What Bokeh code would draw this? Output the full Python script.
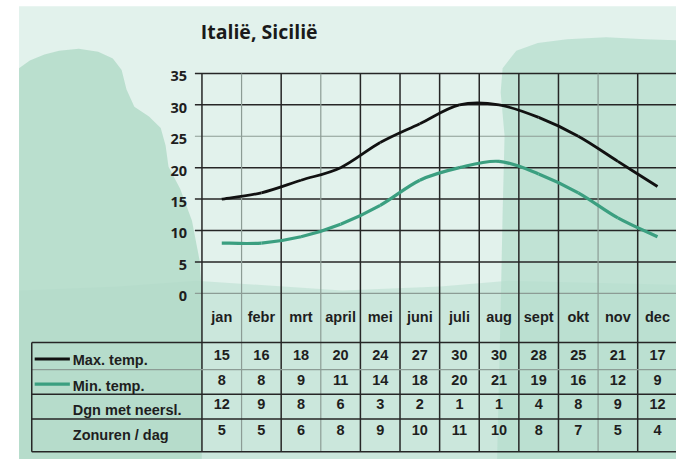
from bokeh.plotting import figure
from bokeh.models import ColumnDataSource, Range1d
from bokeh.embed import file_html
from bokeh.resources import INLINE
from bokeh.core.properties import value

# ---------------- data ----------------
title = "Italië, Sicilië"
months = ["jan", "febr", "mrt", "april", "mei", "juni", "juli", "aug", "sept", "okt", "nov", "dec"]
max_temp = [15, 16, 18, 20, 24, 27, 30, 30, 28, 25, 21, 17]
min_temp = [8, 8, 9, 11, 14, 18, 20, 21, 19, 16, 12, 9]
rain_days = [12, 9, 8, 6, 3, 2, 1, 1, 4, 8, 9, 12]
sun_hours = [5, 5, 6, 8, 9, 10, 11, 10, 8, 7, 5, 4]
y_ticks = [0, 5, 10, 15, 20, 25, 30, 35]
row_labels = ["Max. temp.", "Min. temp.", "Dgn met neersl.", "Zonuren / dag"]

# ---------------- layout (reference pixels -> data units) ----------------
W, H = 676, 459
REF_W, REF_H = 692, 475
COL = 40.55      # ref px per month column
PX0 = 226.5      # ref x of the jan column centre
PXU = 6.5        # ref px per degree
PY35 = 75.5      # ref y of 35 degrees


def dx(px):
    return (px - PX0) / COL


def dy(py):
    return 35 - (py - PY35) / PXU


p = figure(width=W, height=H, output_backend="svg", toolbar_location=None,
           x_range=Range1d(dx(0), dx(REF_W)), y_range=Range1d(dy(REF_H), dy(0)),
           x_axis_location=None, y_axis_location=None, min_border=0,
           background_fill_color="white", border_fill_color="white")
p.grid.visible = False
p.outline_line_color = None

# ---------------- background wash ----------------
p.quad(left=dx(19), right=dx(720), top=dy(6), bottom=dy(490), color="#e2f2ec", line_color=None)


def blot(pts, color, alpha):
    p.patch([dx(a) for a, b in pts], [dy(b) for a, b in pts], fill_color=color,
            fill_alpha=alpha, line_color=None)


# lower band
blot([(19, 300), (120, 296), (200, 290), (350, 300), (450, 296), (520, 290), (720, 295),
      (720, 490), (19, 490)], "#c2e3d5", 0.7)
# left blotch
blot([(19, 70), (30, 62), (45, 56), (60, 52), (80, 50), (100, 53), (115, 60), (124, 72),
      (129, 92), (137, 110), (152, 120), (164, 132), (169, 150), (172, 172), (184, 195),
      (196, 228), (204, 270), (206, 300), (206, 490), (19, 490)],
     "#b0d9c7", 0.8)
# right blotch
blot([(508, 490), (512, 320), (514, 220), (516, 140), (512, 95), (514, 70), (528, 52), (550, 44),
      (580, 40), (620, 38), (660, 40), (720, 42), (720, 490)], "#b6ddcd", 0.75)

# ---------------- grid ----------------
dark = "#262626"
light = "#8c9c95"
for t in y_ticks:
    faint = t in (0, 25)
    p.segment(x0=[dx(199)], y0=[t], x1=[dx(720)], y1=[t],
              line_color=light if faint else dark, line_width=1.2 if faint else 1.5)

light_cols = (1, 3, 10)
for k in range(13):
    p.segment(x0=[k - 0.5], y0=[max(y_ticks)], x1=[k - 0.5], y1=[dy(467)],
              line_color=light if k in light_cols else dark,
              line_width=1.2 if k in light_cols else 1.5)

# table lines
for py, faint in ((354, False), (382, True), (407.5, False), (433, False), (467, False)):
    p.segment(x0=[dx(32)], y0=[dy(py)], x1=[dx(720)], y1=[dy(py)],
              line_color=light if faint else dark, line_width=1.2 if faint else 1.5)
p.segment(x0=[dx(32)], y0=[dy(354)], x1=[dx(32)], y1=[dy(467)], line_color=dark, line_width=1.5)


# ---------------- smooth temperature curves ----------------
def smooth(vals):
    n = len(vals)
    P = [(i, vals[i]) for i in range(n)]
    segs = dict(x0=[], y0=[], x1=[], y1=[], cx0=[], cy0=[], cx1=[], cy1=[])
    for i in range(n - 1):
        pm = P[max(i - 1, 0)]
        p0 = P[i]
        p1 = P[i + 1]
        p2 = P[min(i + 2, n - 1)]
        segs["x0"].append(p0[0]); segs["y0"].append(p0[1])
        segs["x1"].append(p1[0]); segs["y1"].append(p1[1])
        segs["cx0"].append(p0[0] + (p1[0] - pm[0]) / 6.0)
        segs["cy0"].append(p0[1] + (p1[1] - pm[1]) / 6.0)
        segs["cx1"].append(p1[0] - (p2[0] - p0[0]) / 6.0)
        segs["cy1"].append(p1[1] - (p2[1] - p0[1]) / 6.0)
    return ColumnDataSource(segs)


MAXC = "#111111"
MINC = "#3b9f80"
p.bezier(x0="x0", y0="y0", x1="x1", y1="y1", cx0="cx0", cy0="cy0", cx1="cx1", cy1="cy1",
         source=smooth(min_temp), line_color=MINC, line_width=3.2)
p.bezier(x0="x0", y0="y0", x1="x1", y1="y1", cx0="cx0", cy0="cy0", cx1="cx1", cy1="cy1",
         source=smooth(max_temp), line_color=MAXC, line_width=2.8)

# ---------------- texts ----------------
txt = "#1e1e1e"
p.text(x=[dx(205)], y=[dy(32)], text=[title], text_font=value("Open Sans"),
       text_font_style="bold", text_font_size="19.5px", text_color="#1a1a1a",
       text_baseline="alphabetic", text_align="left")

p.text(x=[dx(191)] * len(y_ticks), y=[t - 3 / PXU for t in y_ticks], text=[str(t) for t in y_ticks],
       text_font=value("Open Sans"), text_font_style="bold", text_font_size="14.5px",
       text_color=txt, text_align="right", text_baseline="middle")

mx = list(range(len(months)))
p.text(x=mx, y=[dy(328)] * len(months), text=months, text_font=value("Liberation Sans"),
       text_font_style="bold", text_font_size="14.5px", text_color=txt,
       text_align="center", text_baseline="middle")

rows = [max_temp, min_temp, rain_days, sun_hours]
value_py = [367, 393, 418, 444]
label_py = [372, 399, 424, 450]
for vals, vpy, lpy, lab in zip(rows, value_py, label_py, row_labels):
    p.text(x=mx, y=[dy(vpy)] * len(vals), text=[str(v) for v in vals],
           text_font=value("Liberation Sans"), text_font_style="bold", text_font_size="14.5px",
           text_color=txt, text_align="center", text_baseline="middle")
    p.text(x=[dx(74)], y=[dy(lpy)], text=[lab], text_font=value("Liberation Sans"),
           text_font_style="bold", text_font_size="14.5px", text_color=txt,
           text_align="left", text_baseline="middle")

# legend samples
p.segment(x0=[dx(35)], y0=[dy(371)], x1=[dx(71)], y1=[dy(371)], line_color=MAXC, line_width=3)
p.segment(x0=[dx(35)], y0=[dy(397)], x1=[dx(71)], y1=[dy(397)], line_color=MINC, line_width=3.2)

open("out.html", "w").write(file_html(p, INLINE))
